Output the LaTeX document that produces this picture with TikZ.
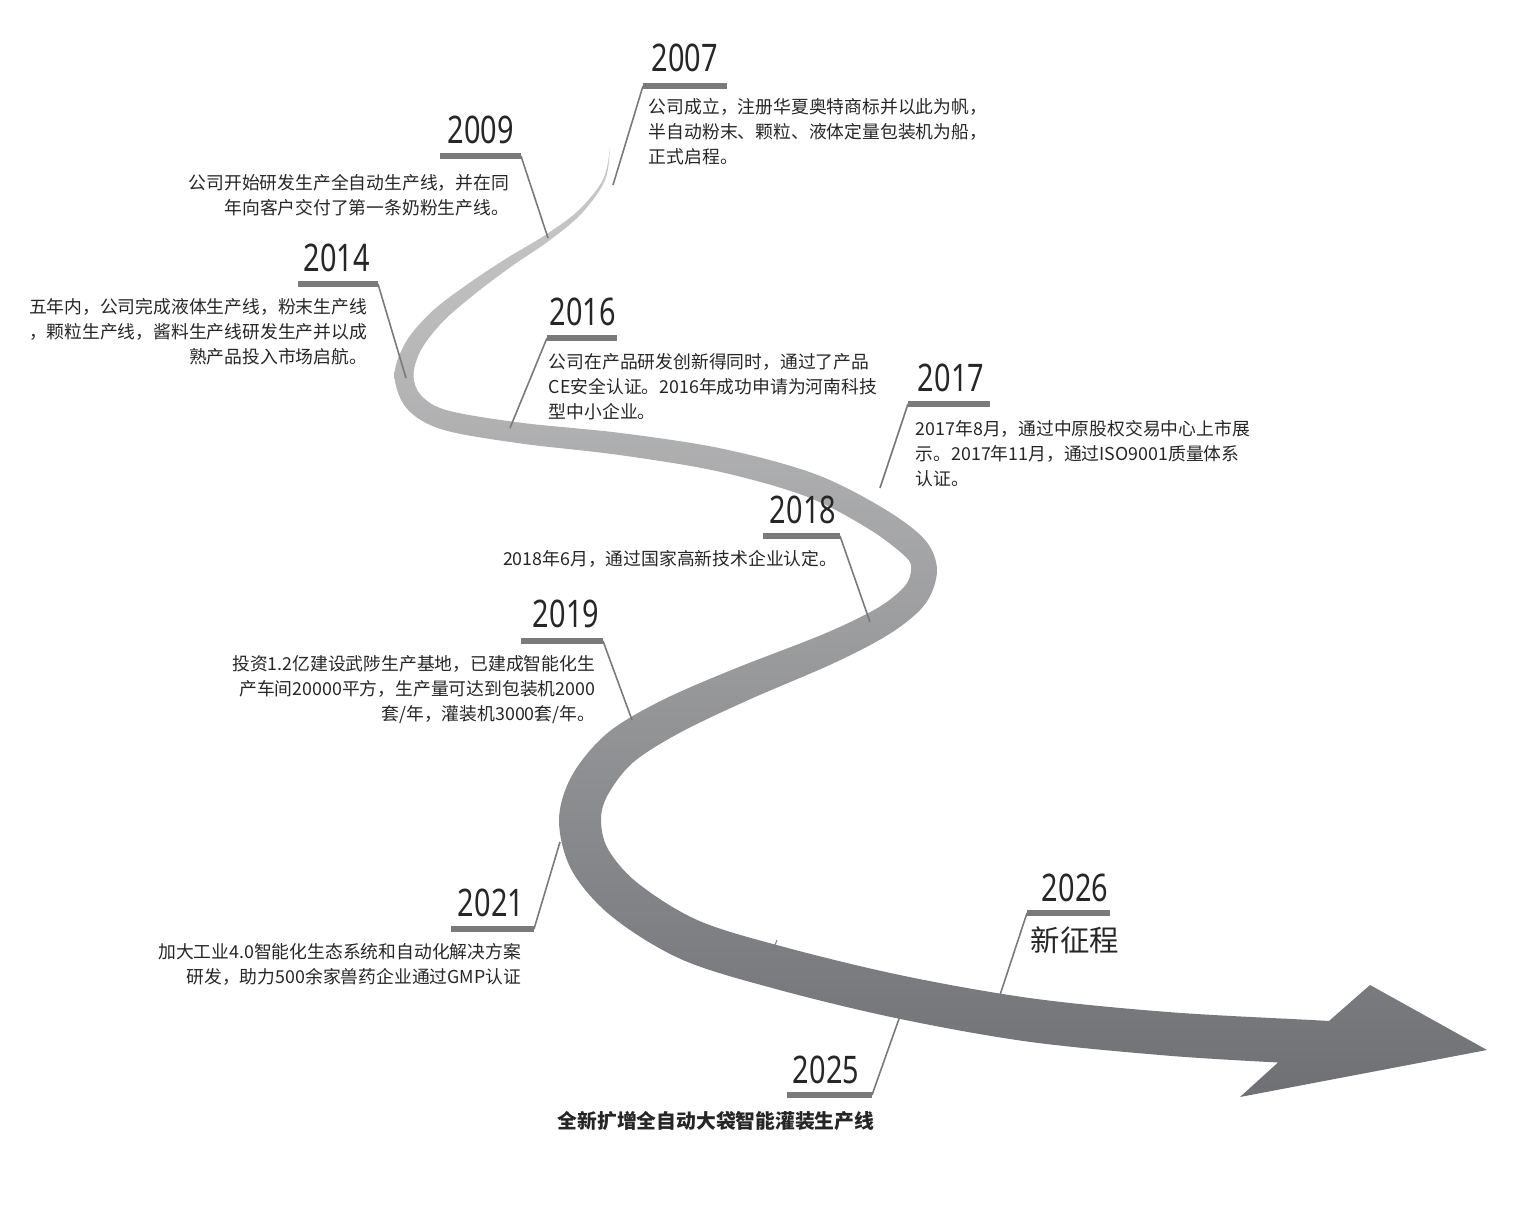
\documentclass[tikz,border=0pt]{standalone}
\usepackage{fontspec}
\setmainfont{Noto Sans CJK SC}
\newfontfamily\yearfont[FakeStretch=0.76]{Noto Sans}
\definecolor{ribtop}{HTML}{CBCBCB}
\definecolor{ribmid}{HTML}{929294}
\definecolor{ribdark}{HTML}{6F7074}
\definecolor{leadgray}{HTML}{7A7A7A}
\definecolor{inkgray}{HTML}{262626}

\begin{document}
\begin{tikzpicture}[
    x=0.25pt,y=-0.25pt,
    year/.style={font=\yearfont\fontsize{9.5}{10}\selectfont,text=inkgray,inner sep=0pt},
    note/.style={font=\fontsize{4.45}{6.25}\selectfont,text=inkgray,inner sep=0pt},
    yearbar/.style={draw=leadgray,line width=1.35pt},
    leader/.style={draw=leadgray,line width=0.4pt},
    ribbon/.style={top color=ribtop,middle color=ribmid,bottom color=ribdark}
  ]
  \useasboundingbox (0,0) rectangle (1524,1219);

  \shade[ribbon]
    plot[smooth,tension=.55] coordinates {
      (610,148) (605,180.4) (581.6,213.5) (549,240.8) (510.7,266.9) (473.7,294.9)
      (443.2,321.3) (421.4,349.2) (413.5,375) (421.2,395.5) (447.8,410.5)
      (521.4,422.8) (621.5,433.1) (722.4,448.7) (814.2,473.7) (881.5,507.2)
      (924.4,539.2) (937,570) (925.7,603.3) (892.5,632) (836.3,662) (746.8,700.7)
      (678.6,733.4) (632.6,762.9) (607.8,794.9) (601,820) (608.3,849.7)
      (638.2,883.5) (698.5,920.6) (785.6,947.4) (904.4,976) (1033,998.5)
      (1171.7,1012.3) (1311.3,1020) (1329,1021)}
    -- (1370,985) -- (1487,1050) -- (1240,1097) -- (1278,1062.5)
    -- plot[smooth,tension=.55] coordinates {
      (1278,1062.5) (1168.3,1055.7) (1027,1041.5) (895.6,1018) (774.4,988.6)
      (681.5,959.4) (611.8,916.5) (571.7,870.3) (559,820) (572.2,775.1)
      (607.4,733.1) (661.4,700.6) (733.2,669.3) (823.7,634) (877.5,608)
      (904.3,586.7) (911,570) (905.6,556.8) (868.5,528.8) (805.8,496.3)
      (717.6,471.3) (618.5,454.9) (518.6,443.2) (442.2,429.5) (406.8,408.5)
      (394.5,375) (406.6,340.8) (432.8,310.7) (466.3,285.1) (505.3,259.1)
      (545,235.2) (578.4,210.5) (603,179.6) (610,148)}
    -- cycle;

  \foreach \yr/\x/\y/\bl/\br/\by/\c/\ex/\ey in {
      2007/685/58/643/727/86/643/613/185,
      2009/481/130/440/521/156/521/548/238,
      2014/337/258/298/378/284/378/406/378,
      2016/583/312/547/617/338/547/510/428,
      2017/951/378/908/990/404/908/880/488,
      2018/803/510/763/840/536/840/870/622,
      2019/566/614/521/603/641/603/632/720,
      2021/491/903/451/534/929/534/560/842,
      2026/1075/888/1027/1110/913/1027/1000/995,
      2025/826/1070/787/872/1095/872/900/1016}{
    \node[year] (y\yr) at (\x,\y) {\yr};
    \coordinate (bl\yr) at (\bl,\by);
    \coordinate (br\yr) at (\br,\by);
    \coordinate (c\yr) at (\c,\by);
    \coordinate (e\yr) at (\ex,\ey);
    \draw[yearbar] (bl\yr) -- (br\yr);
    \draw[leader] (c\yr) -- (e\yr);
  }
  \coordinate (tk1) at (773,950);
  \coordinate (tk2) at (777,940);
  \draw[leadgray,line width=0.25pt] (tk1) -- (tk2);

  \node[note,anchor=north west,align=left] (d2007) at (648,98)
    {公司成立，注册华夏奥特商标并以此为帆，\\半自动粉末、颗粒、液体定量包装机为船，\\正式启程。};
  \node[note,anchor=north east,align=right] (d2009) at (510,174)
    {公司开始研发生产全自动生产线，并在同\\年向客户交付了第一条奶粉生产线。};
  \node[note,anchor=north east,align=right] (d2014) at (368,298)
    {五年内，公司完成液体生产线，粉末生产线\\，颗粒生产线，酱料生产线研发生产并以成\\熟产品投入市场启航。};
  \node[note,anchor=north west,align=left] (d2016) at (548,353)
    {公司在产品研发创新得同时，通过了产品\\CE安全认证。2016年成功申请为河南科技\\型中小企业。};
  \node[note,anchor=north west,align=left] (d2017) at (915,420)
    {2017年8月，通过中原股权交易中心上市展\\示。2017年11月，通过ISO9001质量体系\\认证。};
  \node[note,anchor=north east,align=right] (d2018) at (838,550)
    {2018年6月，通过国家高新技术企业认定。};
  \node[note,anchor=north east,align=right] (d2019) at (596,655)
    {投资1.2亿建设武陟生产基地，已建成智能化生\\产车间20000平方，生产量可达到包装机2000\\套/年，灌装机3000套/年。};
  \node[note,anchor=north east,align=right] (d2021) at (522,943)
    {加大工业4.0智能化生态系统和自动化解决方案\\研发，助力500余家兽药企业通过GMP认证};
  \node[note,font=\fontsize{7.35}{8}\selectfont] (d2026) at (1075,940) {新征程};
  \node[note,font=\bfseries\fontsize{4.95}{5.5}\selectfont] (d2025) at (716,1121)
    {全新扩增全自动大袋智能灌装生产线};
\end{tikzpicture}
\end{document}
